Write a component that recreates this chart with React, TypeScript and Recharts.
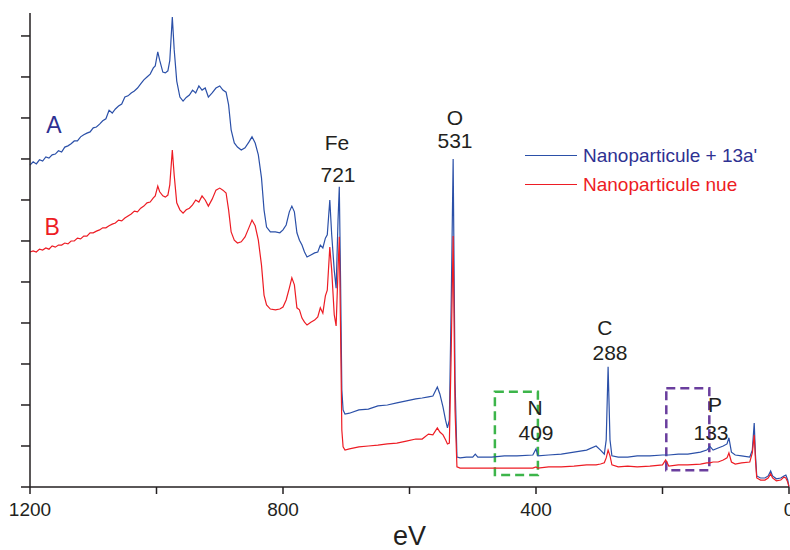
import React from 'react';
import {
  LineChart,
  Line,
  XAxis,
  YAxis,
  Legend,
  ReferenceArea,
  ReferenceDot,
} from 'recharts';

// binding energy (eV)
const energies = [
  1200, 1195, 1190, 1185, 1180, 1175, 1170, 1165, 1160, 1155, 1150, 1145, 1140, 1135, 1130, 1125,
  1120, 1115, 1110, 1105, 1100, 1095, 1090, 1085, 1080, 1075, 1070, 1065, 1060, 1055, 1050, 1045,
  1040, 1035, 1030, 1025, 1020, 1015, 1010, 1005, 1002, 998, 995, 990, 986, 982, 979, 975, 972,
  968, 963, 958, 953, 948, 943, 938, 933, 928, 923, 918, 912, 906, 900, 895, 890, 886, 882, 877,
  872, 866, 860, 854, 849, 844, 839, 834, 830, 826, 820, 812, 805, 800, 795, 790, 786, 782, 778,
  774, 770, 766, 762, 756, 750, 745, 741, 737, 733, 730, 726, 723, 719, 716, 713, 711, 709, 707,
  705, 702, 695, 680, 665, 650, 635, 620, 605, 590, 580, 570, 563, 556, 552, 547, 543, 540, 537,
  534, 531, 528, 525, 520, 510, 500, 496, 492, 470, 450, 430, 405, 400, 397, 380, 360, 340, 320,
  305, 298, 292, 289, 286, 283, 280, 270, 255, 240, 220, 200, 195, 190, 175, 160, 140, 130, 125,
  120, 112, 104, 98, 95, 91, 85, 75, 62, 58, 55, 53, 51, 45, 38, 33, 29, 26, 20, 13, 8, 5, 2, 0,
];

// A : Nanoparticule + 13a'
const intensityA = [
  78.5, 79.3, 78.8, 79.8, 79.5, 80.5, 80.2, 81.0, 81.2, 82.0, 81.7, 82.9, 83.2, 83.7, 84.4, 84.4,
  85.4, 85.9, 86.3, 86.6, 87.6, 87.8, 88.5, 89.3, 89.8, 91.9, 91.2, 92.2, 92.9, 93.4, 95.1, 95.4,
  96.1, 96.6, 97.3, 98.3, 99.3, 100.0, 100.7, 102.2, 102.7, 106.1, 104.1, 101.2, 101.0, 101.5, 104.0, 114.6, 106.6,
  99.0, 95.1, 94.1, 95.0, 95.6, 96.8, 96.1, 97.8, 96.8, 97.3, 95.1, 96.1, 97.3, 97.8, 96.8, 96.3, 93.2, 87.1, 83.9,
  82.9, 82.2, 82.7, 84.1, 85.4, 83.9, 81.0, 75.4, 67.6, 63.4, 62.2, 62.2, 62.0, 62.7, 63.9, 67.1, 68.5, 67.1, 62.0,
  60.2, 59.0, 57.3, 56.1, 56.6, 57.1, 57.3, 59.0, 58.3, 60.7, 61.5, 70.0, 61.5, 52.9, 48.5, 65.1, 73.2, 50.5, 23.7,
  18.8, 17.8, 18.0, 18.8, 19.0, 19.8, 20.0, 20.5, 21.0, 21.5, 21.7, 22.0, 22.2, 24.4, 22.7, 19.5, 16.3, 14.4, 16.3,
  45.6, 80.0, 26.0, 7.3, 7.1, 7.3, 7.3, 8.0, 7.3, 7.3, 7.6, 7.6, 7.8, 9.3, 7.6, 7.8, 8.0, 8.5, 9.0,
  10.0, 9.0, 8.0, 11.5, 29.3, 11.5, 7.6, 7.3, 7.3, 7.6, 7.6, 7.8, 7.8, 7.8, 8.0, 8.0, 8.5, 9.0, 9.9,
  9.0, 9.5, 10.0, 10.5, 12.0, 8.5, 7.8, 7.6, 7.3, 9.0, 15.6, 7.8, 2.7, 2.2, 2.2, 2.7, 3.9, 2.7, 2.0, 2.2, 2.7, 2.9, 1.7, 0,
];

// B : Nanoparticule nue
const intensityB = [
  57.3, 57.6, 57.3, 58.0, 57.8, 58.3, 58.0, 58.8, 58.5, 59.0, 59.0, 59.5, 59.3, 60.0, 60.0, 60.7,
  60.5, 61.2, 61.2, 62.0, 62.0, 62.4, 62.7, 63.2, 63.2, 63.7, 64.1, 64.4, 65.1, 64.9, 65.6, 66.1,
  66.6, 67.3, 67.1, 68.0, 68.5, 69.3, 69.5, 70.5, 71.0, 73.4, 72.0, 71.0, 70.7, 71.2, 73.7, 82.2, 76.0,
  69.3, 67.6, 66.8, 67.6, 68.0, 68.8, 70.0, 69.5, 71.0, 70.0, 68.5, 70.2, 72.4, 72.9, 72.4, 71.7, 67.6, 62.2, 60.2,
  59.5, 59.8, 61.0, 63.2, 65.1, 63.7, 60.2, 54.1, 46.8, 44.4, 43.4, 43.2, 43.4, 43.9, 45.6, 48.5, 51.0, 49.3, 43.7,
  43.2, 41.2, 40.2, 39.5, 40.2, 40.7, 41.5, 43.7, 42.4, 46.6, 48.0, 58.5, 52.9, 42.0, 39.3, 52.9, 61.0, 38.3, 13.9,
  9.8, 9.0, 9.3, 9.8, 10.0, 10.2, 10.5, 10.7, 11.2, 11.7, 11.7, 12.9, 12.7, 14.4, 13.4, 12.7, 11.5, 10.5, 10.7,
  33.4, 61.2, 18.8, 4.9, 4.6, 4.6, 4.6, 4.6, 4.6, 4.6, 4.6, 4.6, 4.6, 4.9, 4.6, 4.9, 4.9, 5.1, 5.4,
  5.4, 5.6, 5.9, 7.1, 9.0, 7.6, 5.4, 4.9, 5.1, 4.9, 5.1, 5.4, 6.6, 5.1, 5.4, 5.4, 5.6, 5.9, 5.9,
  6.1, 6.1, 6.6, 7.1, 8.3, 6.1, 5.6, 5.9, 6.1, 8.3, 12.7, 6.6, 2.2, 1.7, 1.7, 2.2, 3.2, 2.2, 1.5, 1.7, 2.4, 2.2, 1.2, 0,
];

const xTicks = [0, 200, 400, 600, 800, 1000, 1200];
const xLabelled = [0, 400, 800, 1200];
const yTicks = [0, 10, 20, 30, 40, 50, 60, 70, 80, 90, 100, 110];

const seriesNames = ["Nanoparticule + 13a'", 'Nanoparticule nue'];

const BLUE = '#2b50a8';
const RED = '#ed1c24';
const NAVY = '#2e3192';
const INK = '#231f20';
const FONT = '"Liberation Sans", Arial, sans-serif';

const data = energies.map((e, i) => ({ energy: e, a: intensityA[i], b: intensityB[i] }));

// text annotations placed in data coordinates
const annotations = [
  { text: 'Fe', x: 714.6, y: 83.9, color: INK, size: 21 },
  { text: '721', x: 713, y: 76.3, color: INK, size: 21 },
  { text: 'O', x: 528, y: 90.0, color: INK, size: 21 },
  { text: '531', x: 528, y: 84.4, color: INK, size: 21 },
  { text: 'C', x: 291, y: 38.8, color: INK, size: 21 },
  { text: '288', x: 283, y: 32.7, color: INK, size: 21 },
  { text: 'N', x: 401.6, y: 19.3, color: INK, size: 21 },
  { text: '409', x: 400, y: 13.2, color: INK, size: 21 },
  { text: 'P', x: 117, y: 20.2, color: INK, size: 21 },
  { text: '133', x: 123.3, y: 13.4, color: INK, size: 21 },
  { text: 'A', x: 1162, y: 88.3, color: NAVY, size: 23 },
  { text: 'B', x: 1165, y: 63.4, color: RED, size: 23 },
];

function SpectrumLegend() {
  const rows = [
    { name: seriesNames[0], line: BLUE, text: NAVY },
    { name: seriesNames[1], line: RED, text: RED },
  ];
  return (
    <div style={{ fontFamily: FONT, fontSize: 19 }}>
      {rows.map((r) => (
        <div key={r.name} style={{ display: 'flex', alignItems: 'center', height: 29 }}>
          <div style={{ width: 52, height: 1.3, background: r.line, marginRight: 6 }} />
          <span style={{ color: r.text, lineHeight: '29px' }}>{r.name}</span>
        </div>
      ))}
    </div>
  );
}

export default function App() {
  return (
    <div style={{ position: 'absolute', left: 0, top: 0, width: 790, height: 550, background: '#fff' }}>
      <LineChart
        width={790}
        height={550}
        data={data}
        margin={{ top: 13, right: 1, bottom: 0, left: 0 }}
        style={{ fontFamily: FONT }}
      >
        <XAxis
          dataKey="energy"
          type="number"
          domain={[0, 1200]}
          reversed
          ticks={xTicks}
          tickFormatter={(v: number) => (xLabelled.includes(v) ? String(v) : '')}
          tick={{ fill: INK, fontSize: 19 }}
          tickSize={7}
          tickMargin={9}
          height={63}
          stroke={INK}
          strokeWidth={1.5}
          interval={0}
          label={{ value: 'eV', position: 'insideBottom', offset: 5, fontSize: 27, fill: INK }}
        />
        <YAxis
          type="number"
          domain={[0, 115.6]}
          allowDataOverflow
          ticks={yTicks}
          tickFormatter={() => ''}
          tickSize={9}
          width={30}
          stroke={INK}
          strokeWidth={1.5}
          interval={0}
        />
        <ReferenceArea
          x1={465}
          x2={397}
          y1={2.9}
          y2={23.2}
          fill="none"
          fillOpacity={0}
          stroke="#3cb54a"
          strokeWidth={2.5}
          strokeDasharray="9 5"
        />
        <ReferenceArea
          x1={194}
          x2={126}
          y1={4.1}
          y2={24.1}
          fill="none"
          fillOpacity={0}
          stroke="#6a3e9e"
          strokeWidth={2.5}
          strokeDasharray="9 5"
        />
        <Line
          type="linear"
          dataKey="a"
          name={seriesNames[0]}
          stroke={BLUE}
          strokeWidth={1.2}
          dot={false}
          isAnimationActive={false}
        />
        <Line
          type="linear"
          dataKey="b"
          name={seriesNames[1]}
          stroke={RED}
          strokeWidth={1.2}
          dot={false}
          isAnimationActive={false}
        />
        {annotations.map((a) => (
          <ReferenceDot
            key={a.text}
            x={a.x}
            y={a.y}
            r={0}
            fill="none"
            stroke="none"
            label={{ value: a.text, position: 'center', fontSize: a.size, fill: a.color }}
          />
        ))}
        <Legend
          layout="vertical"
          align="center"
          verticalAlign="middle"
          content={() => <SpectrumLegend />}
          wrapperStyle={{ position: 'absolute', left: 525, top: 141, width: 260 }}
        />
      </LineChart>
    </div>
  );
}
